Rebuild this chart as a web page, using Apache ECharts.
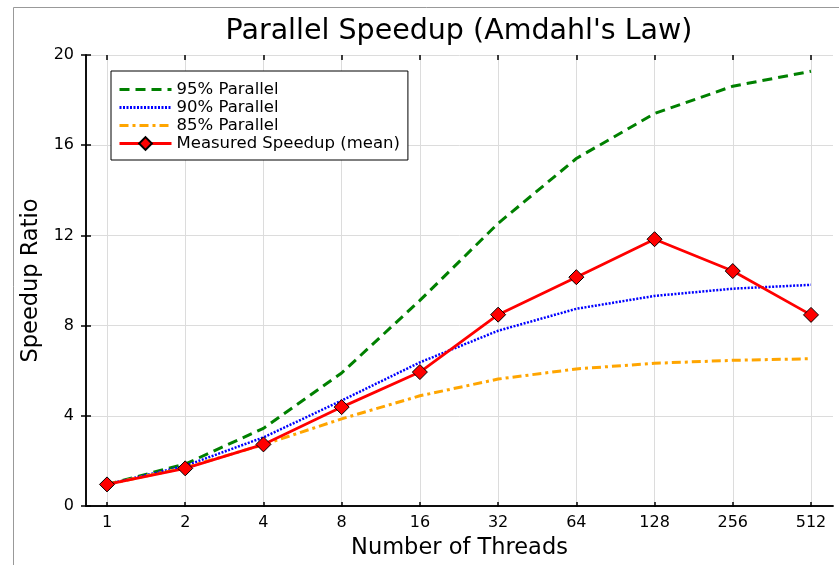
<!DOCTYPE html>
<html>
<head>
<meta charset="utf-8">
<script src="https://cdn.jsdelivr.net/npm/echarts@6/dist/echarts.min.js"></script>
<style>
  html, body { margin: 0; padding: 0; background: #fff; }
  #chart { width: 839px; height: 565px; }
</style>
</head>
<body>
<div id="chart"></div>
<script>
const threads = ["1", "2", "4", "8", "16", "32", "64", "128", "256", "512"];
const parallel95 = [1, 1.9, 3.48, 5.93, 9.14, 12.55, 15.42, 17.41, 18.62, 19.28];
const parallel90 = [1, 1.82, 3.08, 4.71, 6.4, 7.8, 8.77, 9.34, 9.66, 9.83];
const parallel85 = [1, 1.74, 2.76, 3.9, 4.92, 5.66, 6.11, 6.36, 6.49, 6.56];
const measured = [1.0, 1.71, 2.77, 4.42, 5.97, 8.51, 10.17, 11.85, 10.44, 8.5];
const yTicks = [0, 4, 8, 12, 16, 20];

const font = "DejaVu Sans";
const frameColor = "#000";
const gridColor = "#dcdcdc";

const chart = echarts.init(document.getElementById("chart"), null, { renderer: "canvas" });

const plotTop = 55;
const plotBottom = 58;

// no marker in the legend for the plain lines
const hiddenMarker = { opacity: 0 };

const option = {
  backgroundColor: "#fff",
  animation: false,
  textStyle: { fontFamily: font },
  title: {
    text: "Parallel Speedup (Amdahl's Law)",
    left: 454,
    top: 12,
    textAlign: "center",
    textStyle: { fontFamily: font, fontSize: 28.5, fontWeight: "normal", color: "#000" },
  },
  graphic: [
    {
      type: "rect",
      shape: { x: 13.5, y: 7.5, width: 900, height: 700 },
      style: { fill: "none", stroke: "#999", lineWidth: 1 },
      silent: true,
      z: -10,
    },
  ],
  legend: {
    orient: "vertical",
    left: 111,
    top: 71,
    padding: [10, 8, 8, 7],
    itemGap: 1,
    itemWidth: 52,
    itemHeight: 16,
    backgroundColor: "#fff",
    borderColor: "#000",
    borderWidth: 1,
    borderRadius: 0,
    textStyle: { fontFamily: font, fontSize: 16.5, color: "#000" },
    data: [
      { name: "95% Parallel", itemStyle: hiddenMarker, lineStyle: { width: 3 } },
      { name: "90% Parallel", itemStyle: hiddenMarker, lineStyle: { width: 3 } },
      { name: "85% Parallel", itemStyle: hiddenMarker, lineStyle: { width: 3 } },
      { name: "Measured Speedup (mean)", lineStyle: { width: 3 } },
    ],
  },
  grid: [
    { left: 86, right: 6, top: plotTop, bottom: plotBottom },
    { left: 107, right: 28, top: plotTop, bottom: plotBottom },
  ],
  xAxis: [
    {
      // frame bottom
      gridIndex: 0,
      type: "value",
      min: 0,
      max: 1,
      position: "bottom",
      axisLine: { show: true, lineStyle: { color: frameColor, width: 1.5 } },
      axisTick: { show: false },
      axisLabel: { show: false },
      splitLine: { show: false },
      name: "Number of Threads",
      nameLocation: "middle",
      nameGap: 31,
      nameTextStyle: { fontFamily: font, fontSize: 22.5, color: "#000" },
    },
    {
      // frame top
      gridIndex: 0,
      type: "value",
      min: 0,
      max: 1,
      position: "top",
      axisLine: { show: true, lineStyle: { color: frameColor, width: 1.5 } },
      axisTick: { show: false },
      axisLabel: { show: false },
      splitLine: { show: false },
    },
    {
      gridIndex: 1,
      type: "category",
      data: threads,
      boundaryGap: false,
      position: "bottom",
      axisLine: { show: false },
      axisTick: { show: true, inside: true, length: 5, lineStyle: { color: frameColor, width: 1.5 } },
      axisLabel: { fontFamily: font, fontSize: 16, color: "#000", margin: 8 },
      splitLine: { show: true, lineStyle: { color: gridColor, width: 1 } },
    },
    {
      gridIndex: 1,
      type: "category",
      data: threads,
      boundaryGap: false,
      position: "top",
      axisLine: { show: false },
      axisTick: { show: true, inside: true, length: 5, lineStyle: { color: frameColor, width: 1.5 } },
      axisLabel: { show: false },
      splitLine: { show: false },
    },
  ],
  yAxis: [
    {
      gridIndex: 0,
      type: "value",
      min: 0,
      max: 20,
      interval: 4,
      position: "left",
      axisLine: { show: true, lineStyle: { color: frameColor, width: 1.5 } },
      axisTick: { show: true, inside: true, length: 5, lineStyle: { color: frameColor, width: 1.5 } },
      axisLabel: {
        fontFamily: font,
        fontSize: 16,
        color: "#000",
        margin: 12,
        formatter: (v) => (yTicks.includes(v) ? String(v) : ""),
      },
      splitLine: { show: true, lineStyle: { color: gridColor, width: 1 } },
      name: "Speedup Ratio",
      nameLocation: "middle",
      nameRotate: 90,
      nameGap: 43,
      nameTextStyle: { fontFamily: font, fontSize: 22.5, color: "#000" },
    },
    {
      gridIndex: 0,
      type: "value",
      min: 0,
      max: 20,
      interval: 4,
      position: "right",
      axisLine: { show: true, lineStyle: { color: frameColor, width: 1.5 } },
      axisTick: { show: true, inside: true, length: 5, lineStyle: { color: frameColor, width: 1.5 } },
      axisLabel: { show: false },
      splitLine: { show: false },
    },
    {
      gridIndex: 1,
      type: "value",
      min: 0,
      max: 20,
      show: false,
    },
  ],
  series: [
    {
      name: "95% Parallel",
      type: "line",
      xAxisIndex: 2,
      yAxisIndex: 2,
      data: parallel95,
      showSymbol: false,
      symbol: "none",
      lineStyle: { color: "#008000", width: 3, type: [10, 6] },
      itemStyle: { color: "#008000" },
    },
    {
      name: "90% Parallel",
      type: "line",
      xAxisIndex: 2,
      yAxisIndex: 2,
      data: parallel90,
      showSymbol: false,
      symbol: "none",
      lineStyle: { color: "#0000ff", width: 2.5, type: [2, 1.5] },
      itemStyle: { color: "#0000ff" },
    },
    {
      name: "85% Parallel",
      type: "line",
      xAxisIndex: 2,
      yAxisIndex: 2,
      data: parallel85,
      showSymbol: false,
      symbol: "none",
      lineStyle: { color: "#ffa500", width: 3, type: [9, 4, 3, 4] },
      itemStyle: { color: "#ffa500" },
    },
    {
      name: "Measured Speedup (mean)",
      type: "line",
      xAxisIndex: 2,
      yAxisIndex: 2,
      data: measured,
      symbol: "diamond",
      symbolSize: 15,
      lineStyle: { color: "#ff0000", width: 2.8 },
      itemStyle: { color: "#ff0000", borderColor: "#000", borderWidth: 1 },
      z: 5,
    },
  ],
};

chart.setOption(option);
</script>
</body>
</html>
